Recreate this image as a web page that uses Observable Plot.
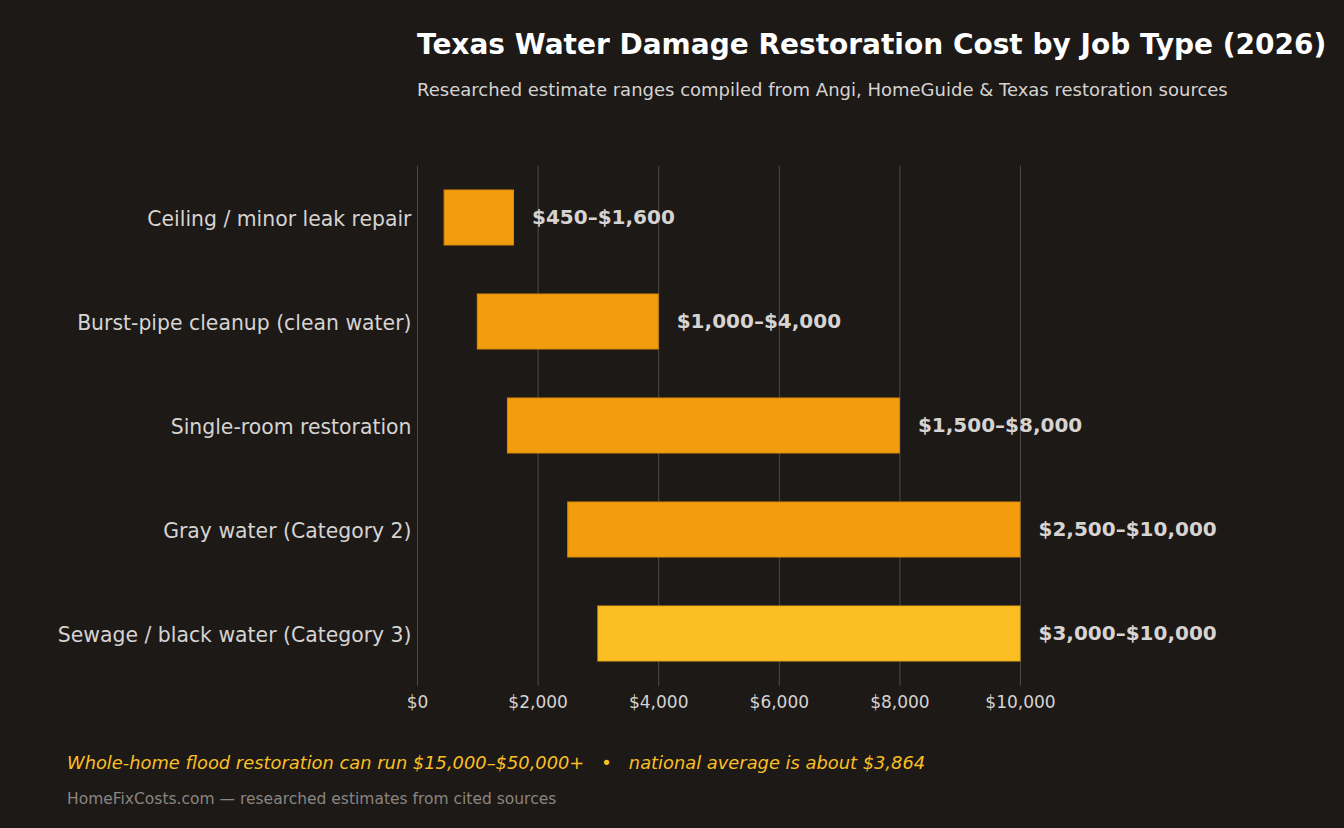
<!DOCTYPE html>
<html>
<head>
<meta charset="utf-8">
<script src="https://cdn.jsdelivr.net/npm/d3@7"></script>
<script src="https://cdn.jsdelivr.net/npm/@observablehq/plot@0.6"></script>
<style>
  html, body { margin: 0; padding: 0; background: #1c1917; }
  body { width: 1344px; height: 828px; overflow: hidden; font-family: "DejaVu Sans", sans-serif; }
  .header { position: relative; height: 130px; }
  .title { position: absolute; left: 417px; top: 28px; font-size: 28px; font-weight: bold; color: #ffffff; white-space: nowrap; }
  .subtitle { position: absolute; left: 417px; top: 79px; font-size: 18px; color: #d6d3d1; white-space: nowrap; }
  .footer { position: relative; height: 98px; }
  .note { position: absolute; left: 67px; top: 22px; font-size: 17.85px; font-style: italic; color: #fbbf24; white-space: pre; }
  .source { position: absolute; left: 67px; top: 60px; font-size: 15.5px; color: #8a8580; white-space: nowrap; }
  #chart svg { display: block; }
</style>
</head>
<body>
<div class="header">
  <div class="title">Texas Water Damage Restoration Cost by Job Type (2026)</div>
  <div class="subtitle">Researched estimate ranges compiled from Angi, HomeGuide &amp; Texas restoration sources</div>
</div>
<div id="chart"></div>
<div class="footer">
  <div class="note">Whole-home flood restoration can run $15,000–$50,000+   •   national average is about $3,864</div>
  <div class="source">HomeFixCosts.com — researched estimates from cited sources</div>
</div>
<script>
// Job types, top to bottom
const jobs = [
  "Ceiling / minor leak repair",
  "Burst-pipe cleanup (clean water)",
  "Single-room restoration",
  "Gray water (Category 2)",
  "Sewage / black water (Category 3)"
];
// Low and high cost estimates (USD)
const lowCost = [450, 1000, 1500, 2500, 3000];
const highCost = [1600, 4000, 8000, 10000, 10000];
// Bar fills: the sewage category is highlighted
const barFills = ["#f39c0e", "#f39c0e", "#f39c0e", "#f39c0e", "#fbbf24"];
const barStrokes = ["#d98a0a", "#d98a0a", "#d98a0a", "#d98a0a", "#e9a815"];
// Axis ticks
const xTicks = [0, 2000, 4000, 6000, 8000, 10000];

const money = d3.format(",");
const rows = jobs.map((job, i) => ({
  job,
  low: lowCost[i],
  high: highCost[i],
  fill: barFills[i],
  stroke: barStrokes[i],
  label: `$${money(lowCost[i])}–$${money(highCost[i])}`
}));

const chart = Plot.plot({
  width: 1344,
  height: 600,
  marginLeft: 417,
  marginRight: 324,
  marginTop: 36,
  marginBottom: 44,
  style: { background: "#1c1917", color: "#d6d3d1", fontFamily: "DejaVu Sans, sans-serif" },
  x: { domain: [0, 10000], ticks: xTicks, tickFormat: d => `$${money(d)}` },
  y: { domain: jobs, paddingInner: 0.47, paddingOuter: 0.235, label: null },
  marks: [
    Plot.gridX(xTicks, { stroke: "#5a5550", strokeOpacity: 0.8, strokeWidth: 1 }),
    Plot.barX(rows, {
      y: "job", x1: "low", x2: "high",
      fill: d => d.fill, stroke: d => d.stroke, strokeWidth: 1
    }),
    Plot.text(rows, {
      y: "job", x: "high", text: "label",
      textAnchor: "start", dx: 18,
      fontSize: 20, fontWeight: "bold", fill: "#d6d3d1"
    }),
    Plot.axisX(xTicks, {
      tickSize: 0, tickPadding: 9, fontSize: 17, label: null,
      tickFormat: d => `$${money(d)}`, fill: "#d6d3d1"
    }),
    Plot.axisY({
      tickSize: 0, tickPadding: 6, fontSize: 20.4, label: null, fill: "#d6d3d1", dy: 1
    })
  ]
});

document.getElementById("chart").appendChild(chart);
</script>
</body>
</html>
